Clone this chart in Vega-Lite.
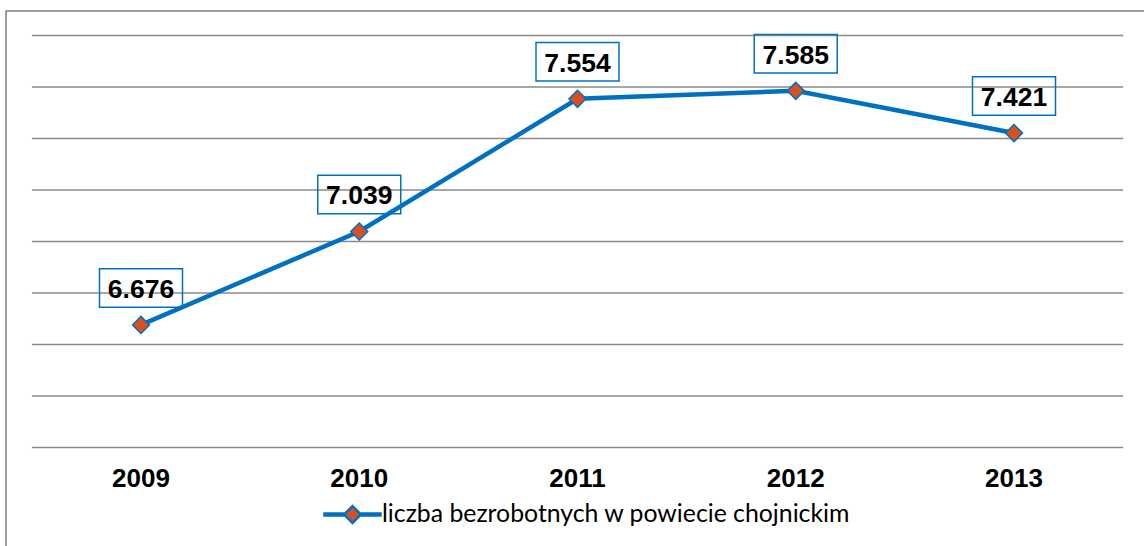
{
  "$schema": "https://vega.github.io/schema/vega-lite/v6.json",
  "width": 1145,
  "height": 545,
  "autosize": {"type": "none"},
  "padding": {"left": 6, "top": 11, "right": 0, "bottom": 0},
  "background": "white",
  "config": {
    "view": {"stroke": "#808080", "strokeWidth": 1.5},
    "locale": {"number": {"decimal": ",", "thousands": ".", "grouping": [3], "currency": ["", " zł"]}}
  },
  "datasets": {
    "series": [
      {"rok": 2009, "liczba": 6676, "seria": "liczba bezrobotnych w powiecie chojnickim"},
      {"rok": 2010, "liczba": 7039, "seria": "liczba bezrobotnych w powiecie chojnickim"},
      {"rok": 2011, "liczba": 7554, "seria": "liczba bezrobotnych w powiecie chojnickim"},
      {"rok": 2012, "liczba": 7585, "seria": "liczba bezrobotnych w powiecie chojnickim"},
      {"rok": 2013, "liczba": 7421, "seria": "liczba bezrobotnych w powiecie chojnickim"}
    ],
    "grid": [
      {"v": 6200}, {"v": 6400}, {"v": 6600}, {"v": 6800}, {"v": 7000},
      {"v": 7200}, {"v": 7400}, {"v": 7600}, {"v": 7800}
    ]
  },
  "layer": [
    {
      "data": {"name": "grid"},
      "mark": {"type": "rule", "color": "#8a8a8a", "strokeWidth": 1.5},
      "encoding": {
        "x": {"datum": 2008.5, "type": "quantitative", "scale": {"domain": [2008.38144, 2013.62772], "nice": false, "zero": false}, "axis": null},
        "x2": {"datum": 2013.5},
        "y": {"field": "v", "type": "quantitative", "scale": {"domain": [5778.6, 7895.1], "nice": false, "zero": false}, "axis": null}
      }
    },
    {
      "data": {"name": "series"},
      "mark": {"type": "text", "font": "Liberation Sans", "fontWeight": "bold", "fontSize": 26, "color": "#000000", "baseline": "alphabetic", "align": "center"},
      "encoding": {
        "x": {"field": "rok", "type": "quantitative", "scale": {"domain": [2008.38144, 2013.62772], "nice": false, "zero": false}, "axis": null},
        "y": {"datum": 6048, "type": "quantitative", "scale": {"domain": [5778.6, 7895.1], "nice": false, "zero": false}, "axis": null},
        "text": {"field": "rok", "type": "quantitative", "format": "d"}
      }
    },
    {
      "data": {"name": "series"},
      "mark": {"type": "line", "strokeWidth": 4.5, "color": "#0070C0"},
      "encoding": {
        "x": {"field": "rok", "type": "quantitative", "scale": {"domain": [2008.38144, 2013.62772], "nice": false, "zero": false}, "axis": null},
        "y": {"field": "liczba", "type": "quantitative", "scale": {"domain": [5778.6, 7895.1], "nice": false, "zero": false}, "axis": null},
        "color": {
          "field": "seria", "type": "nominal",
          "scale": {"range": ["#0070C0"]},
          "legend": {
            "title": null, "orient": "none", "legendX": 317, "legendY": 474, "padding": 0,
            "labelFont": "Lato", "labelFontSize": 24.8, "labelColor": "#000000", "labelOffset": 0, "labelLimit": 0,
            "symbolType": "M-1,-0.036L-0.3,-0.036L-0.3,0.036L-1,0.036Z M0.3,-0.036L1,-0.036L1,0.036L0.3,0.036Z M0,-0.3L0.3,0L0,0.3L-0.3,0Z",
            "symbolSize": 3136, "symbolStrokeWidth": 2.5, "symbolFillColor": "#D9501E", "symbolStrokeColor": "#0070C0",
            "encode": {"symbols": {"update": {
              "fill": {"value": "#D9501E"}, "stroke": {"value": "#0070C0"}, "strokeWidth": {"value": 2.5},
              "opacity": {"value": 1}, "fillOpacity": {"value": 1}, "strokeOpacity": {"value": 1},
              "shape": {"value": "M-1,-0.036L-0.3,-0.036L-0.3,0.036L-1,0.036Z M0.3,-0.036L1,-0.036L1,0.036L0.3,0.036Z M0,-0.3L0.3,0L0,0.3L-0.3,0Z"},
              "size": {"value": 3136}
            }}}
          }
        }
      }
    },
    {
      "data": {"name": "series"},
      "mark": {"type": "point", "shape": "diamond", "filled": true, "fill": "#D9501E", "stroke": "#0070C0", "strokeWidth": 1.5, "size": 289, "opacity": 1},
      "encoding": {
        "x": {"field": "rok", "type": "quantitative", "scale": {"domain": [2008.38144, 2013.62772], "nice": false, "zero": false}, "axis": null},
        "y": {"field": "liczba", "type": "quantitative", "scale": {"domain": [5778.6, 7895.1], "nice": false, "zero": false}, "axis": null}
      }
    },
    {
      "data": {"name": "series"},
      "mark": {"type": "point", "shape": "M-1,-0.464L1,-0.464L1,0.464L-1,0.464Z", "filled": false, "stroke": "#0070C0", "strokeWidth": 1.5, "size": 6889, "opacity": 1, "yOffset": -37},
      "encoding": {
        "x": {"field": "rok", "type": "quantitative", "scale": {"domain": [2008.38144, 2013.62772], "nice": false, "zero": false}, "axis": null},
        "y": {"field": "liczba", "type": "quantitative", "scale": {"domain": [5778.6, 7895.1], "nice": false, "zero": false}, "axis": null}
      }
    },
    {
      "data": {"name": "series"},
      "mark": {"type": "text", "font": "Liberation Sans", "fontWeight": "bold", "fontSize": 26.5, "color": "#000000", "baseline": "alphabetic", "align": "center", "yOffset": -27},
      "encoding": {
        "x": {"field": "rok", "type": "quantitative", "scale": {"domain": [2008.38144, 2013.62772], "nice": false, "zero": false}, "axis": null},
        "y": {"field": "liczba", "type": "quantitative", "scale": {"domain": [5778.6, 7895.1], "nice": false, "zero": false}, "axis": null},
        "text": {"field": "liczba", "type": "quantitative", "format": ",d"}
      }
    }
  ]
}
